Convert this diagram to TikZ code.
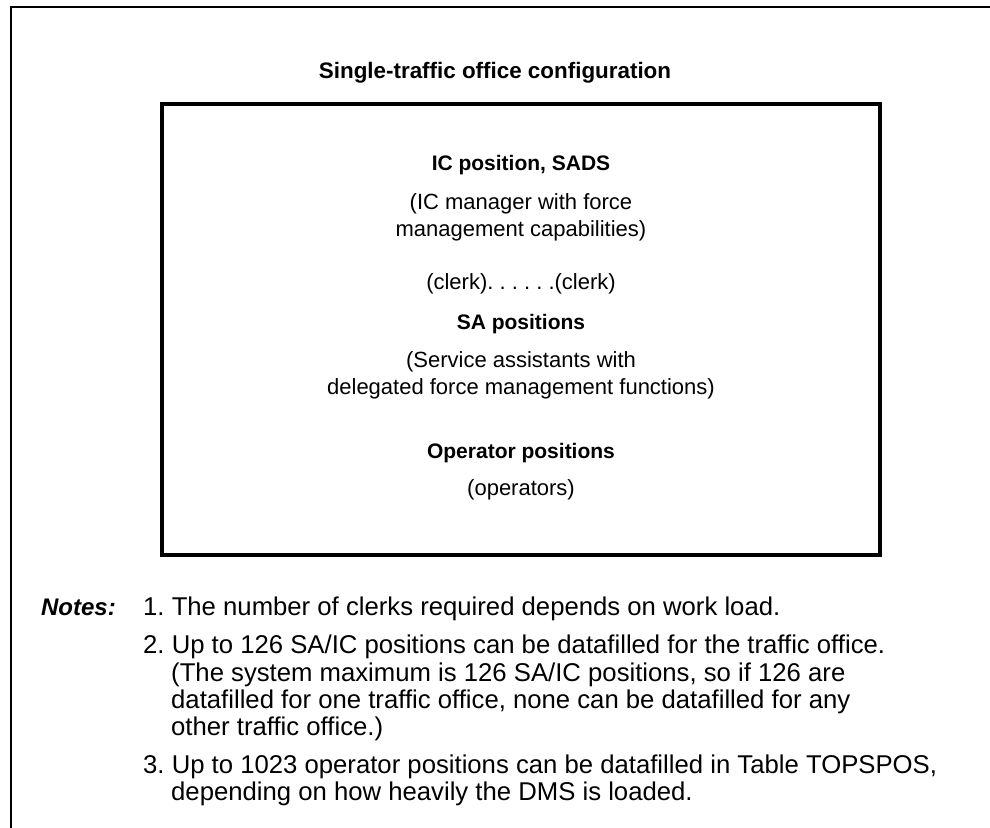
\documentclass[tikz,border=0pt]{standalone}
\usepackage{fontspec}
\setmainfont{Liberation Sans}
\frenchspacing
\begin{document}
\begin{tikzpicture}[x=1pt,y=-1pt,
  txt/.style={inner sep=0pt,anchor=base,font=\fontsize{22}{26}\selectfont},
  head/.style={inner sep=0pt,anchor=base,font=\fontsize{21}{25}\selectfont\bfseries},
  note/.style={inner sep=0pt,anchor=base west,font=\fontsize{25.7}{28}\selectfont},
  frame/.style={line width=2pt},
  boxline/.style={line width=3.5pt}]
\useasboundingbox (0,0) rectangle (990,827);
\coordinate (fbl) at (11,828);
\coordinate (ftl) at (11,7);
\coordinate (ftr) at (992,7);
\draw[frame] (fbl) -- (ftl) -- (ftr);
\node[inner sep=0pt,anchor=base,font=\fontsize{22.4}{26}\selectfont\bfseries] (title) at (495,78) {Single-traffic office configuration};
\node[draw,boxline,minimum width=718pt,minimum height=451pt,inner sep=0pt] (box) at (521,329.5) {};
\node[head] (ic) at (521,170) {IC position, SADS};
\node[txt] (ic1) at (521,209) {(IC manager with force};
\node[txt] (ic2) at (521,236) {management capabilities)};
\node[txt] (clerk) at (521,289) {(clerk).\ .\ .\ .\ .\ .(clerk)};
\node[head] (sa) at (521,329) {SA positions};
\node[txt] (sa1) at (521,367) {(Service assistants with};
\node[txt] (sa2) at (521,394) {delegated force management functions)};
\node[head] (op) at (521,458) {Operator positions};
\node[txt] (op1) at (521,495) {(operators)};
\node[inner sep=0pt,anchor=base east,font=\fontsize{24}{28}\selectfont\bfseries\itshape] (notes) at (116,615) {Notes:};
\node[note] (n1) at (143,615) {1. The number of clerks required depends on work load.};
\node[note] (n2) at (143,653) {2. Up to 126 SA/IC positions can be datafilled for the traffic office.};
\node[note] (n2a) at (171,681) {(The system maximum is 126 SA/IC positions, so if 126 are};
\node[note] (n2b) at (171,708) {datafilled for one traffic office, none can be datafilled for any};
\node[note] (n2c) at (171,735) {other traffic office.)};
\node[note] (n3) at (143,773) {3. Up to 1023 operator positions can be datafilled in Table TOPSPOS,};
\node[note] (n3a) at (171,800) {depending on how heavily the DMS is loaded.};
\end{tikzpicture}
\end{document}
